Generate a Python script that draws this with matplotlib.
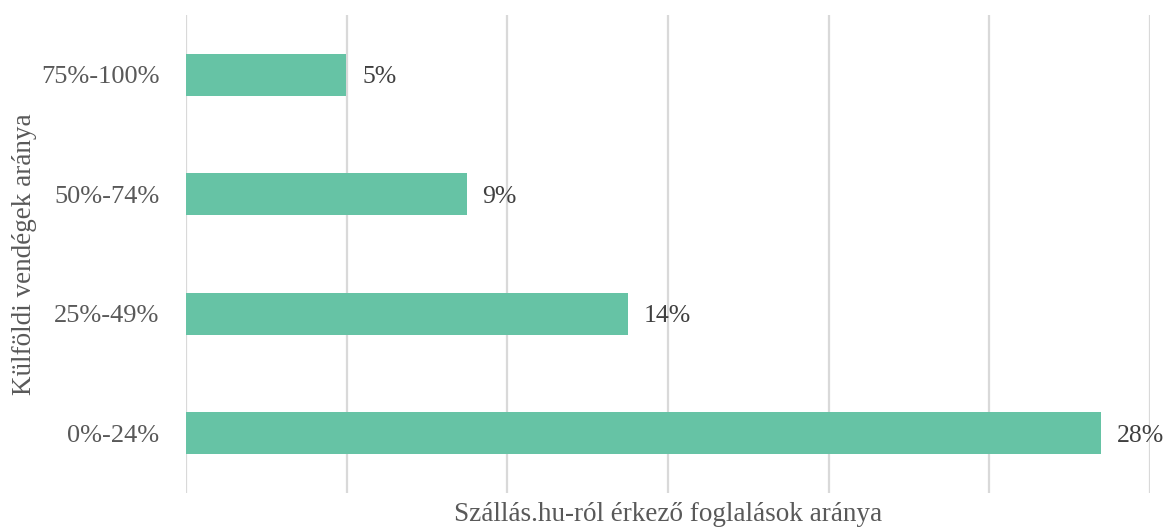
import numpy as np
import matplotlib.pyplot as plt
from matplotlib.ticker import MultipleLocator

# share of foreign guests (categories) vs. share of bookings from Szállás.hu
categories = ["0%-24%", "25%-49%", "50%-74%", "75%-100%"]
shares = [0.2847, 0.1375, 0.0873, 0.0498]

plt.rcParams['font.family'] = ['Liberation Serif', 'DejaVu Serif']

fig = plt.figure(figsize=(11.67, 5.27), dpi=100)
ax = fig.add_axes([186 / 1167, 34 / 527, 964 / 1167, 478 / 527])

y = np.arange(len(categories))
ax.barh(y, shares, height=0.35, color="#66C3A5", zorder=3)

for yi, v in zip(y, shares):
    ax.text(v + 0.005, yi, f"{v:.0%}", va="center_baseline", ha="left",
            fontsize=18.5, color="#404040")

ax.set_xlim(0, 0.30)
ax.set_ylim(-0.5, 3.5)
ax.xaxis.set_major_locator(MultipleLocator(0.05))
ax.grid(axis="x", color="#d9d9d9", linewidth=1.6, zorder=0)
ax.set_xticklabels([])
ax.tick_params(axis="both", length=0)
ax.set_yticks(y)
ax.set_yticklabels(categories, fontsize=19, color="#595959")
ax.tick_params(axis="y", pad=19)
for s in ax.spines.values():
    s.set_visible(False)

ax.set_xlabel("Szállás.hu-ról érkező foglalások aránya", fontsize=19.5,
              color="#595959", labelpad=3)
ax.set_ylabel("Külföldi vendégek aránya", fontsize=19.5, color="#595959")
ax.yaxis.set_label_coords(-0.155, 0.5)

fig.savefig("out.png", dpi=100)
